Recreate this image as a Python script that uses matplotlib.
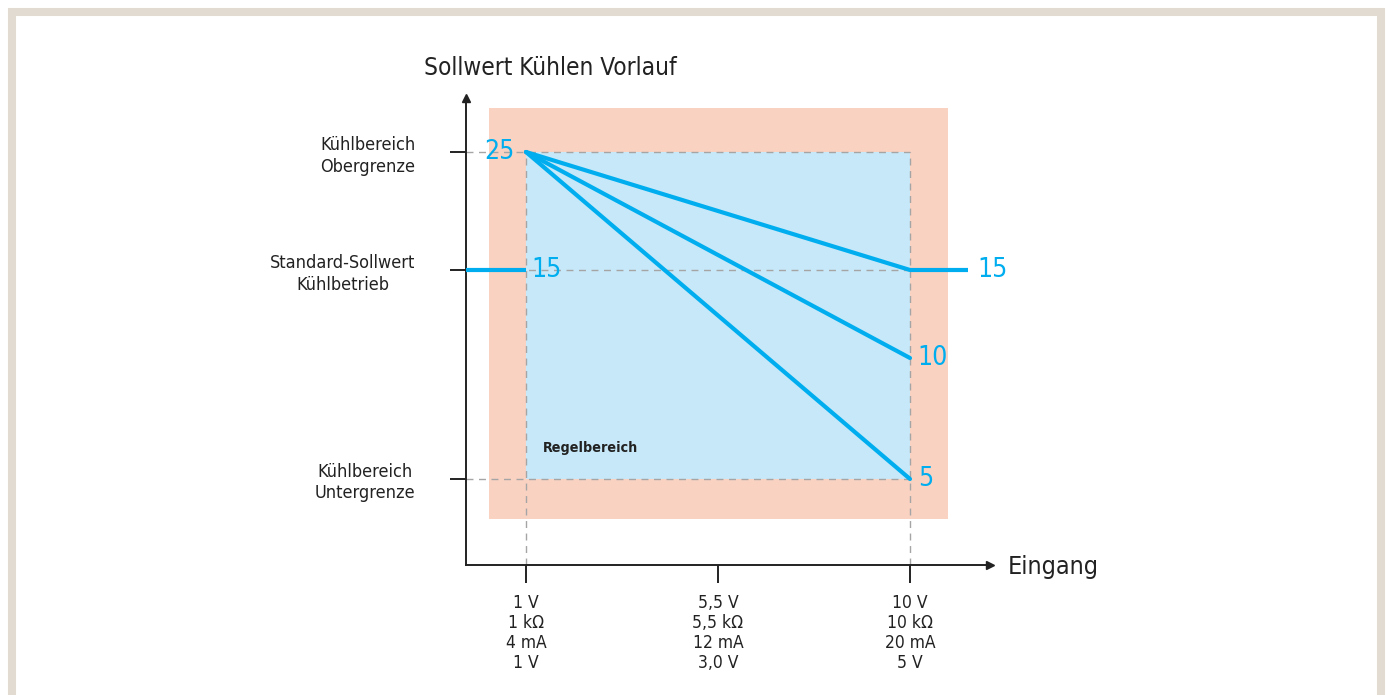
import numpy as np
import matplotlib
matplotlib.use("Agg")
import matplotlib.pyplot as plt
from matplotlib.patches import Rectangle

plt.rcParams['font.family'] = ['DejaVu Sans']
plt.rcParams['font.stretch'] = 'condensed'

# input signal positions (V) and the matching label blocks
x_ticks = [1, 5.5, 10]
x_ticklabels = ["1 V\n1 kΩ\n4 mA\n1 V",
                "5,5 V\n5,5 kΩ\n12 mA\n3,0 V",
                "10 V\n10 kΩ\n20 mA\n5 V"]

# setpoint levels on the y axis
y_ticks = [5, 15, 25]
y_ticklabels = ["Kühlbereich\nUntergrenze",
                "Standard-Sollwert\nKühlbetrieb",
                "Kühlbereich\nObergrenze"]

# characteristic curves: start at 1 V / 25, end at 10 V
x_start, y_start = 1, 25
x_end = 10
y_end = [15, 10, 5]

# standard setpoint outside the control range
y_std = 15

# schematic (not to scale) vertical placement of the levels
level_val = np.array([-10, 5, 10, 15, 25, 45])
level_pix = np.array([842, 479, 358, 270, 152, -84])


def fwd(v):
    return -np.interp(v, level_val, level_pix)


def inv(p):
    return np.interp(p, -level_pix, level_val)


line_c = '#00AEEF'
blue_fill = '#C7E8F8'
orange_fill = '#FAD2C2'
frame_c = '#E2DBD2'
dash_c = '#A5A5A5'
text_c = '#222222'

W, H = 1388, 695
fig = plt.figure(figsize=(W / 100, H / 100), dpi=100)
fig.patch.set_facecolor('white')

# beige frame, open at the bottom
fig.add_artist(Rectangle((12 / W, -0.05), (1381 - 12) / W, 1.05 - 12 / H,
                         transform=fig.transFigure, fill=False,
                         edgecolor=frame_c, linewidth=5.8))

ax_l, ax_r, ax_b, ax_t = 466, 990, 565, 98
ax = fig.add_axes([ax_l / W, 1 - ax_b / H, (ax_r - ax_l) / W, (ax_b - ax_t) / H])
ax.set_facecolor('none')
ax.set_yscale('function', functions=(fwd, inv))

px_per_v = (910 - 526) / 9
ax.set_xlim(1 + (ax_l - 526) / px_per_v, 1 + (ax_r - 526) / px_per_v)
ax.set_ylim(inv(-ax_b), inv(-ax_t))

# outer (orange) and control range (blue) areas
ax.add_patch(Rectangle((0.044, 0.0985), 0.876, 0.88, transform=ax.transAxes,
                       facecolor=orange_fill, edgecolor='none', zorder=0))
ax.add_patch(Rectangle((x_start, min(y_end)), x_end - x_start, y_start - min(y_end),
                       facecolor=blue_fill, edgecolor='none', zorder=1))

x0, x1 = ax.get_xlim()
y0, y1 = ax.get_ylim()

# dashed guides
dash = dict(color=dash_c, linewidth=1.0, linestyle=(0, (5, 4)), zorder=2)
for yv in [y_start, y_std, min(y_end)]:
    ax.plot([x0, x_end], [yv, yv], **dash)
for xv in [x_start, x_end]:
    ax.plot([xv, xv], [y0, y_start], **dash)

# characteristic lines
for ye in y_end:
    ax.plot([x_start, x_end], [y_start, ye], color=line_c, linewidth=3.0,
            solid_capstyle='round', zorder=3)
x_right = 1 + (968 - 526) / px_per_v
ax.plot([x0, x_start], [y_std, y_std], color=line_c, linewidth=3.0,
        solid_capstyle='butt', zorder=3)
ax.plot([x_end, x_right], [y_std, y_std], color=line_c, linewidth=3.0,
        solid_capstyle='butt', zorder=3)

# value labels
vfs = 19
ax.text(x_start - 0.28, y_start, str(y_start), color=line_c, fontsize=vfs,
        ha='right', va='center', zorder=4)
ax.text(x_start + 0.12, y_std, str(y_std), color=line_c, fontsize=vfs,
        ha='left', va='center', zorder=4)
ax.text(x_right + 0.22, y_std, str(y_std), color=line_c, fontsize=vfs,
        ha='left', va='center', zorder=4)
for ye in y_end[1:]:
    ax.text(x_end + 0.18, ye, str(ye), color=line_c, fontsize=vfs,
            ha='left', va='center', zorder=4)

ax.text(x_start + 0.4, 6.3, "Regelbereich", fontsize=10.3, fontweight='bold',
        color=text_c, ha='left', va='center', zorder=4)

# axes styling
for s in ['top', 'right']:
    ax.spines[s].set_visible(False)
for s in ['left', 'bottom']:
    ax.spines[s].set_linewidth(1.4)
    ax.spines[s].set_color(text_c)
ax.plot([0], [1], marker='^', markersize=5.5, color=text_c,
        transform=ax.transAxes, clip_on=False)
ax.plot([1], [0], marker='>', markersize=5.5, color=text_c,
        transform=ax.transAxes, clip_on=False)

ax.set_xticks(x_ticks)
ax.set_xticklabels(x_ticklabels, fontsize=12.5, color=text_c, linespacing=1.15)
ax.set_yticks(y_ticks)
ax.set_yticklabels(y_ticklabels, fontsize=13, color=text_c, linespacing=1.25)
ax.yaxis.set_minor_locator(matplotlib.ticker.NullLocator())
ax.tick_params(axis='x', length=13, width=1.4, color=text_c, pad=8)
ax.tick_params(axis='y', length=11.5, width=1.4, color=text_c, pad=25)
for lab in ax.get_yticklabels():
    lab.set_multialignment('center')

fig.text(424 / W, 1 - 68 / H, "Sollwert Kühlen Vorlauf", fontsize=17.5,
         color=text_c, ha='left', va='center')
fig.text(1008 / W, 1 - 567 / H, "Eingang", fontsize=18,
         color=text_c, ha='left', va='center')

fig.savefig('out.png', dpi=100)
